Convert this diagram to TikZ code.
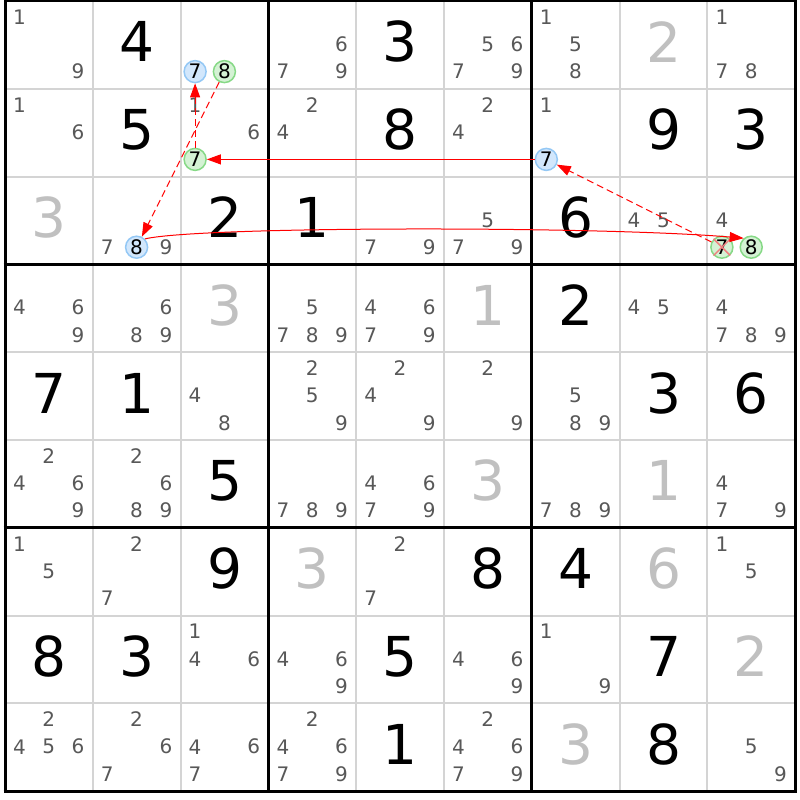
\documentclass[tikz,border=0pt]{standalone}
\usepackage{fontspec}
\setmainfont{DejaVu Sans}
\usetikzlibrary{arrows.meta}

\definecolor{solvedgray}{HTML}{C0C0C0}
\definecolor{candgray}{HTML}{585858}
\definecolor{linegray}{HTML}{D4D4D4}
\definecolor{bluefill}{HTML}{D2E7FC}
\definecolor{blueline}{HTML}{94C8F5}
\definecolor{greenfill}{HTML}{D4F2D4}
\definecolor{greenline}{HTML}{86D986}
\definecolor{strike}{HTML}{F08080}

\tikzset{
    gridthin/.style={linegray, line width=2pt},
    gridthick/.style={black, line width=3pt},
    given/.style={inner sep=0pt, font=\fontsize{55}{55}\selectfont},
    solved/.style={given, text=solvedgray},
    cand/.style={inner sep=0pt, text=candgray, font=\fontsize{20}{20}\selectfont},
    blue mark/.style={circle, inner sep=0pt, minimum size=22pt, line width=1.5pt,
        draw=blueline, fill=bluefill, font=\fontsize{20}{20}\selectfont},
    green mark/.style={blue mark, draw=greenline, fill=greenfill},
    link/.style={red, line width=1pt, -{Triangle[length=14pt,width=10pt]}},
    weaklink/.style={link, dash pattern=on 7pt off 4pt},
}

\begin{document}
\begin{tikzpicture}[x=1pt, y=-1pt]
    \fill[white] (0,0) rectangle (800,800);
    \useasboundingbox (0,0) rectangle (800,800);

    % Draw the thin cell lines
    \foreach \i in {1,2,4,5,7,8} {
        \draw[gridthin] ({5+\i*87.8},1) -- ({5+\i*87.8},{1+9*87.8});
        \draw[gridthin] (5,{1+\i*87.8}) -- ({5+9*87.8},{1+\i*87.8});
    }

    % Draw the box lines
    \foreach \i in {0,3,6,9} {
        \draw[gridthick] ({5+\i*87.8},-0.5) -- ({5+\i*87.8},{2.5+9*87.8});
        \draw[gridthick] (3.5,{1+\i*87.8}) -- ({6.5+9*87.8},{1+\i*87.8});
    }

    % Draw the given digits
    \foreach \r/\c/\d in {1/2/4, 1/5/3, 2/2/5, 2/5/8, 2/8/9, 2/9/3, 3/3/2, 3/4/1,
        3/7/6, 4/7/2, 5/1/7, 5/2/1, 5/8/3, 5/9/6, 6/3/5, 7/3/9, 7/6/8, 7/7/4,
        8/1/8, 8/2/3, 8/5/5, 8/8/7, 9/5/1, 9/8/8}
        \node[given] at ({5+(\c-0.5)*87.8},{1+(\r-0.5)*87.8-3}) {\d};

    % Draw the solved digits
    \foreach \r/\c/\d in {1/8/2, 3/1/3, 4/3/3, 4/6/1, 6/6/3, 6/8/1, 7/4/3,
        7/8/6, 8/9/2, 9/7/3}
        \node[solved] at ({5+(\c-0.5)*87.8},{1+(\r-0.5)*87.8-3}) {\d};

    % Draw the candidates
    \foreach \r/\c/\digs in {1/1/{1,9}, 1/4/{6,7,9}, 1/6/{5,6,7,9}, 1/7/{1,5,8}, 1/9/{1,7,8},
        2/1/{1,6}, 2/3/{1,6}, 2/4/{2,4}, 2/6/{2,4}, 2/7/{1},
        3/2/{7,9}, 3/5/{7,9}, 3/6/{5,7,9}, 3/8/{4,5}, 3/9/{4},
        4/1/{4,6,9}, 4/2/{6,8,9}, 4/4/{5,7,8,9}, 4/5/{4,6,7,9}, 4/8/{4,5}, 4/9/{4,7,8,9},
        5/3/{4,8}, 5/4/{2,5,9}, 5/5/{2,4,9}, 5/6/{2,9}, 5/7/{5,8,9},
        6/1/{2,4,6,9}, 6/2/{2,6,8,9}, 6/4/{7,8,9}, 6/5/{4,6,7,9}, 6/7/{7,8,9}, 6/9/{4,7,9},
        7/1/{1,5}, 7/2/{2,7}, 7/5/{2,7}, 7/9/{1,5},
        8/3/{1,4,6}, 8/4/{4,6,9}, 8/6/{4,6,9}, 8/7/{1,9},
        9/1/{2,4,5,6}, 9/2/{2,6,7}, 9/3/{4,6,7}, 9/4/{2,4,6,7,9}, 9/6/{2,4,6,7,9}, 9/9/{5,9}} {
        \foreach \d in \digs {
            \pgfmathsetmacro\cx{5+(\c-1)*87.8+14.5+29.3*mod(\d-1,3)}
            \pgfmathsetmacro\cy{1+(\r-1)*87.8+16+27.3*floor((\d-1)/3)}
            \node[cand] at (\cx,\cy) {\d};
        }
    }

    % Draw the marked candidates of the chain
    \foreach \r/\c/\d/\nm/\sty in {1/3/7/r1c3s7/blue, 1/3/8/r1c3s8/green,
        2/3/7/r2c3s7/green, 2/7/7/r2c7s7/blue, 3/2/8/r3c2s8/blue,
        3/9/7/r3c9s7/green, 3/9/8/r3c9s8/green} {
        \pgfmathsetmacro\cx{5+(\c-1)*87.8+14.5+29.3*mod(\d-1,3)}
        \pgfmathsetmacro\cy{1+(\r-1)*87.8+16+27.3*floor((\d-1)/3)}
        \node[\sty\space mark] (\nm) at (\cx,\cy) {\d};
    }

    % Cross out the eliminated candidate
    \draw[strike, line width=1.5pt] (r3c9s7.north west) -- (r3c9s7.south east)
        (r3c9s7.north east) -- (r3c9s7.south west);

    % Draw the links
    \draw[link] (r2c7s7) -- (r2c3s7);
    \draw[weaklink] (r2c3s7) -- (r1c3s7);
    \draw[weaklink] (r1c3s8) -- (r3c2s8);
    \draw[link] (r3c2s8.45) .. controls (200,226) and (600,226) .. (r3c9s8.130);
    \draw[weaklink] (r3c9s7) -- (r2c7s7);
\end{tikzpicture}
\end{document}
